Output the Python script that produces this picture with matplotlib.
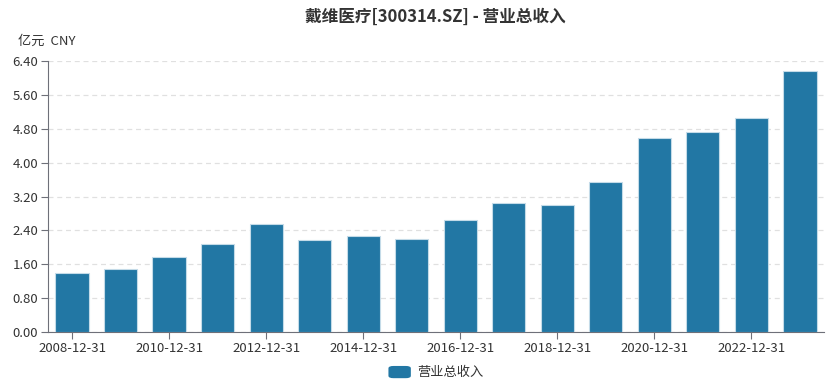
import matplotlib.pyplot as plt
from matplotlib.patches import FancyBboxPatch

plt.rcParams['font.family'] = ['Noto Sans CJK SC', 'DejaVu Sans']

# data
years = ['2008-12-31', '2009-12-31', '2010-12-31', '2011-12-31', '2012-12-31',
         '2013-12-31', '2014-12-31', '2015-12-31', '2016-12-31', '2017-12-31',
         '2018-12-31', '2019-12-31', '2020-12-31', '2021-12-31', '2022-12-31',
         '2023-12-31']
revenue = [1.39, 1.49, 1.78, 2.08, 2.55, 2.17, 2.27, 2.20, 2.65, 3.05,
           3.00, 3.55, 4.59, 4.73, 5.05, 6.17]
yticks = [0, 0.8, 1.6, 2.4, 3.2, 4.0, 4.8, 5.6, 6.4]

bar_color = '#2277a4'
text_color = '#333333'

fig = plt.figure(figsize=(8.3, 3.82), dpi=100)
ax = fig.add_axes([0.0578, 0.131, 0.935, 0.709])

x = range(len(years))
ax.bar(x, revenue, width=0.69, color=bar_color, edgecolor='#c4dbe8',
       linewidth=0.8, zorder=3)

ax.set_xlim(-0.5, len(years) - 0.5)
ax.set_ylim(0, 6.4)
ax.set_yticks(yticks)
ax.set_yticklabels([f'{v:.2f}' for v in yticks], fontsize=9.5, color=text_color)
ax.set_xticks(list(x)[::2])
ax.set_xticklabels(years[::2], fontsize=9.5, color=text_color)

ax.grid(axis='y', linestyle=(0, (4, 3)), color='#e0e0e0', linewidth=0.9, zorder=0)
for s in ['top', 'right']:
    ax.spines[s].set_visible(False)
ax.spines['left'].set_color('#6e7079')
ax.spines['bottom'].set_color('#6e7079')
ax.tick_params(axis='both', color='#6e7079', length=5, width=0.8, pad=2)

fig.text(0.525, 0.955, '戴维医疗[300314.SZ] - 营业总收入', ha='center', va='center',
         fontsize=12, fontweight='bold', color=text_color)
fig.text(0.022, 0.892, '亿元  CNY', ha='left', va='center', fontsize=9.5,
         color=text_color)

# legend
patch = FancyBboxPatch((0.468, 0.010), 0.027, 0.032, boxstyle='round,pad=0,rounding_size=0.006',
                       transform=fig.transFigure, facecolor=bar_color,
                       edgecolor='none')
fig.patches.append(patch)
fig.text(0.503, 0.026, '营业总收入', ha='left', va='center', fontsize=9.5,
         color=text_color)

fig.savefig('out.png', dpi=100)
